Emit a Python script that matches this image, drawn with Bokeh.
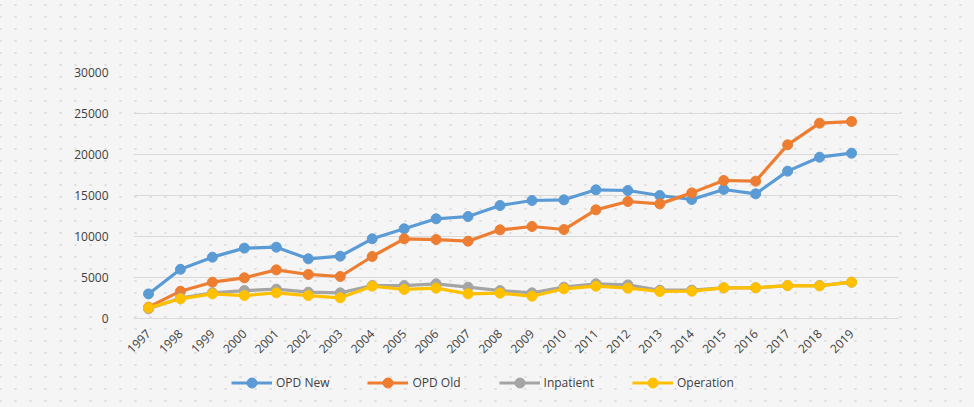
from bokeh.plotting import figure
from bokeh.layouts import column
from bokeh.models import Range1d, FixedTicker, Legend, LegendItem
from bokeh.embed import file_html
from bokeh.resources import INLINE
import math

years = list(range(1997, 2020))
opd_new = [3000, 6000, 7480, 8580, 8700, 7280, 7600, 9720, 10940, 12160, 12440, 13780,
           14390, 14470, 15690, 15610, 15000, 14510, 15730, 15200, 17970, 19670, 20160]
opd_old = [1380, 3330, 4430, 4960, 5930, 5370, 5120, 7560, 9720, 9630, 9430, 10810,
           11220, 10850, 13250, 14270, 13980, 15320, 16830, 16750, 21180, 23820, 24020]
inpatient = [1180, 2500, 3130, 3410, 3580, 3210, 3130, 4020, 4020, 4230, 3820, 3410,
             3130, 3820, 4230, 4100, 3450, 3460, 3740, 3740, 4020, 4020, 4430]
operation = [1300, 2400, 3010, 2800, 3130, 2800, 2520, 3940, 3540, 3700, 3010, 3090,
             2720, 3620, 3940, 3700, 3290, 3330, 3740, 3740, 4020, 3980, 4430]
y_ticks = [0, 5000, 10000, 15000, 20000, 25000, 30000]

series = [("OPD New", opd_new, "#5B9BD5"),
          ("OPD Old", opd_old, "#ED7D31"),
          ("Inpatient", inpatient, "#A5A5A5"),
          ("Operation", operation, "#FFC000")]

W = 974
H_MAIN = 362
H_LEG = 45

p = figure(width=W, height=H_MAIN, output_backend="svg", toolbar_location=None,
           x_range=Range1d(1996.53, 2020.47), y_range=Range1d(0, 30000),
           min_border_left=133, min_border_right=76, min_border_top=72,
           min_border_bottom=H_MAIN - 318)
p.background_fill_color = None
p.border_fill_color = None
p.outline_line_color = None

p.xgrid.grid_line_color = None
p.ygrid.grid_line_color = "#d9d9d9"
p.ygrid.grid_line_width = 1
p.yaxis.ticker = FixedTicker(ticks=y_ticks)
p.xaxis.ticker = FixedTicker(ticks=years)
for ax in (p.xaxis, p.yaxis):
    ax.major_tick_line_color = None
    ax.minor_tick_line_color = None
    ax.major_label_text_font = "Open Sans"
    ax.major_label_text_font_size = "12px"
    ax.major_label_text_color = "#404040"
p.yaxis.axis_line_color = None
p.xaxis.axis_line_color = "#d9d9d9"
p.yaxis.major_label_standoff = 19
p.xaxis.major_label_standoff = 7
p.xaxis.major_label_orientation = math.pi / 4

for name, vals, col in series:
    p.line(years, vals, line_color=col, line_width=3.2)
    p.scatter(years, vals, size=10, fill_color=col, line_color=col)

# legend strip below the chart (its own small canvas; series drawn out of view)
lf = figure(width=W, height=H_LEG, output_backend="svg", toolbar_location=None,
            x_range=Range1d(0, 1), y_range=Range1d(0, 1),
            min_border_left=0, min_border_right=0, min_border_top=0, min_border_bottom=0)
lf.background_fill_color = None
lf.border_fill_color = None
lf.outline_line_color = None
lf.axis.visible = False
lf.grid.visible = False

items = []
for name, vals, col in series:
    r1 = lf.line(years, vals, line_color=col, line_width=3.2)
    r2 = lf.scatter(years, vals, size=10, fill_color=col, line_color=col)
    items.append(LegendItem(label=name, renderers=[r1, r2]))

legend = Legend(items=items, orientation="horizontal", location=(98, 12),
                glyph_width=41, glyph_height=25, label_standoff=4, spacing=38,
                padding=0, margin=0, border_line_color=None, background_fill_alpha=0,
                label_text_font="Open Sans", label_text_font_size="12px",
                label_text_color="#404040")
lf.add_layout(legend, "center")

layout = column(p, lf, spacing=0)
layout.styles = {
    "background-color": "#f5f5f5",
    "background-image": "radial-gradient(circle, #dedede 1px, rgba(0,0,0,0) 1.3px)",
    "background-size": "15px 12px",
    "background-position": "-7px -1px",
}

open("out.html", "w").write(file_html(layout, INLINE))
